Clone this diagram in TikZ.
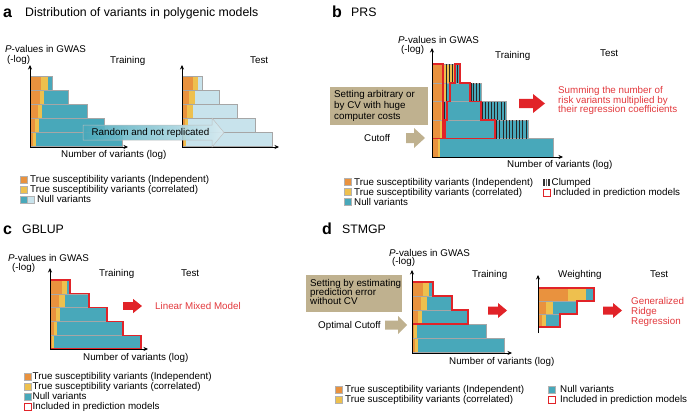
\documentclass[tikz,border=0pt]{standalone}
\usepackage{fontspec}
\setmainfont{Liberation Sans}
\usetikzlibrary{arrows.meta}
\definecolor{orgC}{RGB}{233,146,62}
\definecolor{yelC}{RGB}{238,192,78}
\definecolor{tealC}{RGB}{72,168,186}
\definecolor{lightC}{RGB}{200,227,236}
\definecolor{beigeC}{RGB}{191,177,143}
\definecolor{redC}{RGB}{225,35,40}
\definecolor{redT}{RGB}{226,56,60}
\tikzset{
  lbl/.style={font=\fontsize{9.8}{11}\selectfont, inner sep=0pt, anchor=west, text height=7pt, text depth=2pt},
  pval/.style={lbl, text depth=0.3pt},
  neglog/.style={lbl, text height=6.3pt},
  redtxt/.style={lbl, text=redT},
  ttl/.style={font=\fontsize{12.3}{14}\selectfont, inner sep=0pt, anchor=base west},
  plet/.style={font=\fontsize{16}{18}\selectfont\bfseries, inner sep=0pt, anchor=base west},
  axisln/.style={line width=0.6pt, -{Stealth[length=4.5pt,width=4pt]}},
  rowline/.style={draw=black!35, line width=0.35pt},
  redline/.style={draw=redC, line width=1.3pt, line join=miter},
  stripe/.style={draw=black!85, line width=0.8pt},
  legsq/.style={draw=black!30, line width=0.3pt},
}
\newcommand\mkrow[7]{%
  \fill[orgC] (#3,#1) rectangle (#4,#2);
  \fill[yelC] (#4,#1) rectangle (#5,#2);
  \fill[#7] (#5,#1) rectangle (#6,#2);
  \draw[rowline] (#3,#1) rectangle (#6,#2);
}
\newcommand\clump[5]{%
  \foreach \k in {1,...,#5} {\draw[stripe] ({#3+(\k-0.6)*(#4-#3)/#5},#1) -- ({#3+(\k-0.6)*(#4-#3)/#5},#2);}
}
\newcommand\blockarrow[7]{%
  \fill[#1] (#2,{#5-#6}) -- (#3,{#5-#6}) -- (#3,{#5-#7}) -- (#4,#5) -- (#3,{#5+#7}) -- (#3,{#5+#6}) -- (#2,{#5+#6}) -- cycle;
}
\begin{document}
\begin{tikzpicture}[x=1pt,y=-1pt]
\useasboundingbox (0,0) rectangle (695,415);

% ================= Panel a =================
\node[plet] (la) at (3,17) {a};
\node[ttl] (ta) at (25,16.7) {Distribution of variants in polygenic models};
\node[pval] (pa) at (5,49.2) {\textit{P}-values in GWAS};
\node[neglog] (pla) at (7,60.2) {(-log)};
\node[lbl] (tra) at (110,61) {Training};
\node[lbl] (tea) at (250,61) {Test};
\node[lbl] (nva) at (61,155) {Number of variants (log)};
% training bars
\mkrow{76}{90}{30}{41}{48}{52}{tealC}
\mkrow{90}{104}{30}{40}{44}{68}{tealC}
\mkrow{104}{118}{30}{38}{42}{87}{tealC}
\mkrow{118}{132}{30}{35}{39}{104}{tealC}
\mkrow{132}{146}{30}{33}{36}{122}{tealC}
% test bars
\mkrow{76}{90}{182}{193}{198}{202}{lightC}
\mkrow{90}{104}{182}{189}{195}{219}{lightC}
\mkrow{104}{118}{182}{187}{193}{237}{lightC}
\mkrow{118}{132}{182}{185}{188}{255}{lightC}
\mkrow{132}{146}{182}{183.5}{186}{272}{lightC}
% axes
\coordinate (oa1) at (30,147);
\coordinate (oa2) at (182,147);
\draw[axisln] (oa1) -- ++(0,-82);
\draw[axisln] (oa1) -- ++(98,0);
\draw[axisln] (oa2) -- ++(0,-82);
\draw[axisln] (oa2) -- ++(97,0);
% big arrow
\shadedraw[left color=tealC, right color=lightC!70!white, draw=black!25, line width=0.5pt, fill opacity=0.92]
  (83,125) -- (212,125) -- (212,118) -- (224,132.5) -- (212,147) -- (212,140) -- (83,140) -- cycle;
\node[lbl, anchor=center] (rnr) at (150.5,133) {Random and not replicated};
% legend a
\fill[orgC, legsq] (20,176) rectangle (27.5,183);
\node[lbl] (la1) at (30,180) {True susceptibility variants (Independent)};
\fill[yelC, legsq] (20,186) rectangle (27.5,193);
\node[lbl] (la2) at (30,190) {True susceptibility variants (correlated)};
\fill[tealC, legsq] (20,196) rectangle (27,203);
\fill[lightC, legsq] (27,196) rectangle (34,203);
\node[lbl] (la3) at (37,200) {Null variants};

% ================= Panel b =================
\node[plet] (lb) at (332,17.3) {b};
\node[ttl] (tb) at (351,16.7) {PRS};
\node[pval] (pb) at (398,39.8) {\textit{P}-values in GWAS};
\node[neglog] (plb) at (401,50.3) {(-log)};
\node[lbl] (trb) at (495,55.5) {Training};
\node[lbl] (teb) at (600,53.5) {Test};
\node[lbl] (nvb) at (507,164.5) {Number of variants (log)};
% bars
\mkrow{64}{83}{432}{443}{454}{460}{tealC}
\mkrow{83}{101.5}{432}{442}{446}{481}{tealC}
\mkrow{101.5}{120}{432}{441}{444}{506}{tealC}
\mkrow{120}{138.5}{432}{440}{442}{528}{tealC}
\mkrow{138.5}{157}{432}{438}{440}{553}{tealC}
\foreach \xx in {446,449,452,457} {\draw[stripe] (\xx,64) -- (\xx,83);}
\draw[stripe] (446.3,83) -- (446.3,101.5);
\draw[stripe] (444.3,101.5) -- (444.3,120);
\draw[stripe] (442.3,120) -- (442.3,138.5);
\clump{83}{101.5}{470}{481}{4}
\clump{101.5}{120}{481}{506}{8}
\clump{120}{138.5}{495}{528}{10}
% included outlines
\draw[redline] (432.6,64) rectangle (443,138.5);
\draw[redline] (455,64) -- (460,64) -- (460,83) -- (470,83) -- (470,101.5) -- (481,101.5) -- (481,120) -- (495,120) -- (495,138.5) -- (445,138.5) -- (445,120) -- (447,120) -- (447,101.5) -- (450,101.5) -- (450,83) -- (455,83) -- cycle;
% axes
\coordinate (ob) at (432,157);
\draw[axisln] (ob) -- ++(0,-109);
\draw[axisln] (ob) -- ++(131,0);
% beige box and arrows
\fill[beigeC] (330,87) rectangle (428,125);
\node[lbl] (bb1) at (334,94.5) {Setting arbitrary or};
\node[lbl] (bb2) at (334,105.5) {by CV with huge};
\node[lbl] (bb3) at (334,116.5) {computer costs};
\node[lbl] (cutb) at (364,138.5) {Cutoff};
\blockarrow{beigeC}{406}{414}{425}{138}{5}{10}
\blockarrow{redC}{519}{533}{545}{103.5}{4.7}{9.5}
\node[redtxt] (rb1) at (558,91) {Summing the number of};
\node[redtxt] (rb2) at (558,100.7) {risk variants multiplied by};
\node[redtxt] (rb3) at (558,110.4) {their regression coefficients};
% legend b
\fill[orgC, legsq] (344,178.5) rectangle (351.5,185.5);
\node[lbl] (lb1) at (354,182.5) {True susceptibility variants (Independent)};
\fill[yelC, legsq] (344,188.5) rectangle (351.5,195.5);
\node[lbl] (lb2) at (354,192.5) {True susceptibility variants (correlated)};
\fill[tealC, legsq] (344,198.5) rectangle (351.5,205.5);
\node[lbl] (lb3) at (354,202.5) {Null variants};
\fill[black!80] (543,178.5) rectangle (544.6,185.5);
\fill[black!60] (545.6,178.5) rectangle (547.2,185.5);
\fill[black!80] (548.4,178.5) rectangle (549.6,185.5);
\node[lbl] (lb4) at (551.5,182.5) {Clumped};
\draw[redC, line width=1pt] (543.5,189) rectangle (550.5,196);
\node[lbl] (lb5) at (553,192.5) {Included in prediction models};

% ================= Panel c =================
\node[plet] (lc) at (3,234) {c};
\node[ttl] (tc) at (22,233) {GBLUP};
\node[pval] (pc) at (8,257.8) {\textit{P}-values in GWAS};
\node[neglog] (plc) at (12,268.7) {(-log)};
\node[lbl] (trc) at (99,273.5) {Training};
\node[lbl] (tec) at (181,273.5) {Test};
\node[lbl] (nvc) at (83,357.5) {Number of variants (log)};
\mkrow{280}{293.8}{50}{62}{67}{70}{tealC}
\mkrow{293.8}{307.6}{50}{59}{65}{89}{tealC}
\mkrow{307.6}{321.4}{50}{56}{60}{107}{tealC}
\mkrow{321.4}{335.2}{50}{54}{57}{123}{tealC}
\mkrow{335.2}{349}{50}{52}{54}{141}{tealC}
\draw[redline] (50.6,280) -- (70,280) -- (70,293.8) -- (89,293.8) -- (89,307.6) -- (107,307.6) -- (107,321.4) -- (123,321.4) -- (123,335.2) -- (141,335.2) -- (141,349) -- (50.6,349) -- cycle;
\coordinate (oc) at (50,349);
\draw[axisln] (oc) -- ++(0,-81);
\draw[axisln] (oc) -- ++(98,0);
\blockarrow{redC}{123}{133}{142}{306}{3.8}{7.2}
\node[redtxt] (lmm) at (155,306.5) {Linear Mixed Model};
% legend c
\fill[orgC, legsq] (24,373) rectangle (31.5,380);
\node[lbl] (lc1) at (32.5,376.5) {True susceptibility variants (Independent)};
\fill[yelC, legsq] (24,383) rectangle (31.5,390);
\node[lbl] (lc2) at (32.5,386.5) {True susceptibility variants (correlated)};
\fill[tealC, legsq] (24,393) rectangle (31.5,400);
\node[lbl] (lc3) at (32.5,396.5) {Null variants};
\draw[redC, line width=1pt] (24.5,403) rectangle (31,410);
\node[lbl] (lc4) at (32.5,406.5) {Included in prediction models};

% ================= Panel d =================
\node[plet] (ld) at (322,234) {d};
\node[ttl] (td) at (342,233) {STMGP};
\node[pval] (pd) at (389,252.8) {\textit{P}-values in GWAS};
\node[neglog] (pld) at (392,262.3) {(-log)};
\node[lbl] (trd) at (472,274.5) {Training};
\node[lbl] (wd) at (558,274.5) {Weighting};
\node[lbl] (ted) at (650,274.5) {Test};
\node[lbl] (nvd) at (449,361.5) {Number of variants (log)};
\mkrow{282}{296}{412}{423}{429}{432.5}{tealC}
\mkrow{296}{310}{412}{421}{427}{452}{tealC}
\mkrow{310}{324}{412}{418}{422}{468}{tealC}
\mkrow{324}{338}{412}{414}{417}{486}{tealC}
\mkrow{338}{352}{412}{415}{418}{504}{tealC}
\draw[redline] (412.6,282) -- (433,282) -- (433,296) -- (452,296) -- (452,310) -- (468,310) -- (468,324) -- (412.6,324) -- cycle;
\coordinate (od) at (412,353);
\draw[axisln] (od) -- ++(0,-83);
\draw[axisln] (od) -- ++(100,0);
% weighting
\mkrow{288}{301}{538}{568}{586}{593.5}{tealC}
\mkrow{301}{314}{538}{546}{553}{576.5}{tealC}
\mkrow{314}{327}{538}{542}{546}{559.5}{tealC}
\draw[redline] (538.6,288) -- (594,288) -- (594,301) -- (577,301) -- (577,314) -- (560,314) -- (560,327) -- (538.6,327) -- cycle;
\coordinate (ow) at (538,333);
\draw[axisln] (ow) -- ++(0,-58);
% beige
\fill[beigeC] (306,275) rectangle (402,312);
\node[lbl] (bd1) at (310,284) {Setting by estimating};
\node[lbl] (bd2) at (310,293.2) {prediction error};
\node[lbl] (bd3) at (310,302.4) {without CV};
\node[lbl] (ocd) at (318,325.5) {Optimal Cutoff};
\blockarrow{beigeC}{385}{398}{407}{325}{4.5}{9}
\blockarrow{redC}{488}{498}{507}{310.5}{4}{7.5}
\blockarrow{redC}{603}{613}{622}{310.5}{4}{7.5}
\node[redtxt] (gd1) at (631,301.5) {Generalized};
\node[redtxt] (gd2) at (631,311.5) {Ridge};
\node[redtxt] (gd3) at (631,321.5) {Regression};
% legend d
\fill[orgC, legsq] (335,386) rectangle (342.5,393);
\node[lbl] (ld1) at (345,389.5) {True susceptibility variants (Independent)};
\fill[yelC, legsq] (335,396) rectangle (342.5,403);
\node[lbl] (ld2) at (345,399.5) {True susceptibility variants (correlated)};
\fill[tealC, legsq] (548,386) rectangle (555.5,393);
\node[lbl] (ld3) at (560,389.5) {Null variants};
\draw[redC, line width=1pt] (548.5,396) rectangle (555,403);
\node[lbl] (ld4) at (560,399.5) {Included in prediction models};
\end{tikzpicture}
\end{document}
